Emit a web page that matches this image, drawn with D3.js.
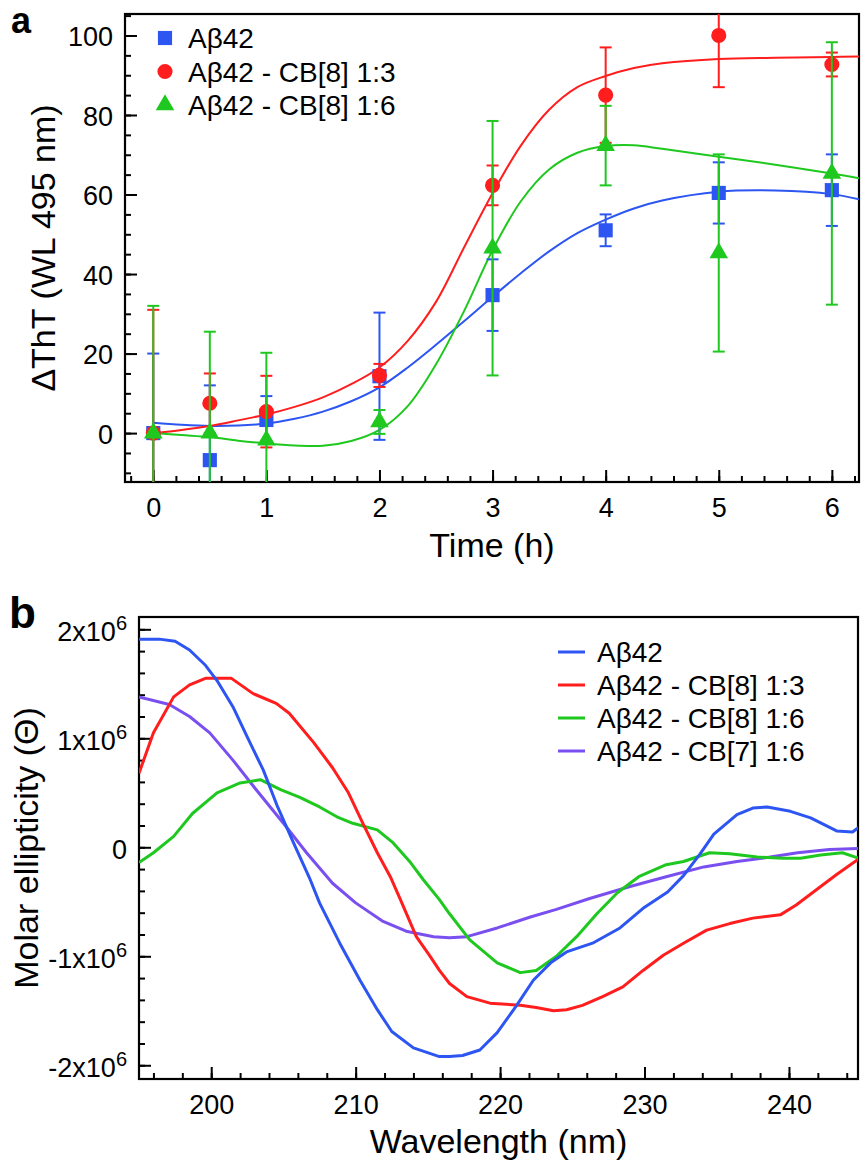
<!DOCTYPE html>
<html>
<head>
<meta charset="utf-8">
<script src="https://cdn.jsdelivr.net/npm/d3@7"></script>
<style>
  body { margin: 0; background: #fff; }
  svg text { font-family: "Liberation Sans", Arial, Helvetica, sans-serif; fill: #000; }
  .axis path, .axis line { stroke: #000; stroke-width: 2; }
</style>
</head>
<body>
<div id="chart"></div>
<script>
// ---- panel a : ThT kinetics ----
var timeH = [0, 0.5, 1, 2, 3, 4, 5, 6];
var ab42Tht = [0, -6.8, 3.3, 14.3, 34.7, 51, 60.4, 61.1];
var ab42Err = [20, 18.8, 6, 16, 9, 4, 7.7, 9];
var cb8r3Tht = [0, 7.5, 5.4, 14.5, 62.3, 85, 100, 92.7];
var cb8r3Err = [31, 7.5, 9, 2.9, 5, 12, 13, 3];
var cb8r6Tht = [0, 0, -1.8, 2.8, 46.5, 72.3, 45.3, 65.3];
var cb8r6Err = [32, 25.5, 22, 3, 32, 10, 24.8, 33];

// fitted curves
var fitTime = [0, 0.25, 0.5, 0.75, 1, 1.25, 1.5, 1.75, 2, 2.25, 2.5, 2.75, 3, 3.25, 3.5, 3.75, 4, 4.25, 4.5, 5, 5.5, 6, 6.24];
var ab42Fit = [2.6, 2.1, 1.8, 1.9, 2.4, 3.6, 5.4, 8.0, 11.5, 16.5, 22.2, 28.2, 34.3, 40.2, 45.7, 50.3, 53.7, 56.5, 58.5, 60.7, 61.0, 60.1, 58.8];
var cb8r3Fit = [0, 0.8, 1.8, 3.2, 4.7, 6.6, 9.0, 12.3, 16.5, 23.2, 33.0, 46.8, 60.3, 72.3, 81.3, 87.0, 89.8, 91.8, 93.0, 94.1, 94.4, 94.6, 94.7];
var cb8r6Fit = [0, -0.5, -1.0, -1.9, -2.6, -3.1, -3.2, -2.0, 0.8, 6.8, 17.3, 30.8, 46.0, 58.3, 66.3, 70.5, 72.2, 72.4, 71.5, 69.5, 67.5, 65.3, 64.1];

var timeTicks = [0, 1, 2, 3, 4, 5, 6];
var thtTicks = [0, 20, 40, 60, 80, 100];

// ---- panel b : CD spectra (values in 10^6) ----
var ab42Wl = [195, 196.4, 197.5, 198.5, 199.6, 200.4, 201.5, 202.5, 203.6, 204.6, 205.7, 206.8, 207.5, 208.9, 210.3, 211.5, 212.5, 214, 215.8, 216.5, 217.4, 218.6, 219.8, 221.1, 222.3, 223.5, 224.6, 226.4, 228.3, 229.9, 231.6, 232.7, 233.8, 234.8, 236.4, 237.5, 238.5, 240.1, 241.5, 243.3, 244.4, 244.8];
var ab42Cd = [1.91, 1.91, 1.89, 1.81, 1.67, 1.53, 1.29, 1.01, 0.71, 0.37, 0.04, -0.28, -0.51, -0.88, -1.22, -1.49, -1.69, -1.84, -1.92, -1.92, -1.91, -1.86, -1.70, -1.46, -1.22, -1.06, -0.96, -0.88, -0.74, -0.56, -0.41, -0.26, -0.07, 0.12, 0.30, 0.36, 0.37, 0.33, 0.27, 0.15, 0.14, 0.18];
var cb8r3Wl = [195, 196, 197.4, 198.5, 199.6, 201.4, 202.9, 204.5, 205.4, 207.1, 208.4, 209.5, 210.5, 211.5, 212.4, 213.1, 214.2, 215.1, 215.8, 216.5, 217.7, 219.3, 221.4, 222.5, 223.7, 224.6, 225.7, 227.1, 228.5, 229.9, 231.3, 232.7, 234.3, 235.9, 237.5, 239.4, 240.5, 241.9, 243.3, 244.8];
var cb8r3Cd = [0.68, 1.05, 1.38, 1.49, 1.55, 1.55, 1.41, 1.32, 1.23, 0.96, 0.73, 0.50, 0.22, -0.05, -0.27, -0.48, -0.82, -0.99, -1.13, -1.25, -1.37, -1.43, -1.45, -1.47, -1.50, -1.49, -1.45, -1.37, -1.28, -1.13, -0.99, -0.88, -0.76, -0.70, -0.65, -0.62, -0.53, -0.39, -0.25, -0.11];
var cb8r6Wl = [195, 196, 197.4, 198.7, 200.4, 202, 203.4, 204.8, 206.1, 207.5, 208.7, 209.8, 211.5, 212.6, 213.8, 214.7, 215.8, 216.5, 217.9, 219.8, 221.4, 222.5, 223.9, 225.3, 226.7, 228.1, 229.6, 231.5, 232.7, 234.5, 235.9, 237.8, 239.6, 240.8, 242.2, 243.7, 244.8];
var cb8r6Cd = [-0.14, -0.05, 0.10, 0.31, 0.50, 0.59, 0.62, 0.53, 0.46, 0.37, 0.28, 0.22, 0.16, 0.04, -0.14, -0.30, -0.48, -0.61, -0.85, -1.06, -1.15, -1.13, -1.00, -0.82, -0.61, -0.42, -0.27, -0.16, -0.13, -0.05, -0.06, -0.09, -0.10, -0.10, -0.07, -0.05, -0.10];
var cb7r6Wl = [195, 197.1, 198.5, 199.9, 201.5, 203.1, 205, 206.6, 208.4, 210, 211.9, 213.5, 215.4, 216.5, 217.7, 219.8, 222.1, 223.9, 226.2, 229, 231.5, 234.1, 236.4, 238.7, 240.6, 242.8, 244.8];
var cb7r6Cd = [1.38, 1.31, 1.20, 1.05, 0.80, 0.53, 0.22, -0.05, -0.33, -0.51, -0.68, -0.77, -0.82, -0.83, -0.82, -0.74, -0.64, -0.57, -0.47, -0.36, -0.27, -0.18, -0.13, -0.09, -0.05, -0.02, -0.01];

var wlTicks = [200, 210, 220, 230, 240];
var cdTicks = [-2, -1, 0, 1, 2];

var blue = "#2c55f2", red = "#ff1d1d", green = "#1fc81f", purple = "#7a4ff0";

var svgWidth = 865;
var svgHeight = 1169;

var svg = d3.select("#chart")
  .append("svg")
  .attr("width", svgWidth)
  .attr("height", svgHeight);

function zip(xs, ys) {
  return xs.map(function(x, i) { return [x, ys[i]]; });
}

// ================= panel a =================
var a = { left: 125, right: 859, top: 14, bottom: 482 };

var xA = d3.scaleLinear().domain([-0.25, 6.24]).range([a.left, a.right]);
var yA = d3.scaleLinear().domain([-12.3, 105.4]).range([a.bottom, a.top]);

svg.append("defs").append("clipPath").attr("id", "clipA")
  .append("rect")
  .attr("x", a.left).attr("y", a.top)
  .attr("width", a.right - a.left).attr("height", a.bottom - a.top);

// minor ticks
svg.append("g").attr("class", "axis")
  .attr("transform", "translate(0," + a.bottom + ")")
  .call(d3.axisBottom(xA).tickValues(d3.range(-0.2, 6.21, 0.2)).tickSize(-6).tickFormat(""))
  .select(".domain").remove();
svg.append("g").attr("class", "axis")
  .attr("transform", "translate(" + a.left + ",0)")
  .call(d3.axisLeft(yA).tickValues(d3.range(-10, 106, 5)).tickSize(-6).tickFormat(""))
  .select(".domain").remove();

// major ticks
var xAxisA = svg.append("g").attr("class", "axis")
  .attr("transform", "translate(0," + a.bottom + ")")
  .call(d3.axisBottom(xA).tickValues(timeTicks).tickSize(-12).tickPadding(16).tickFormat(d3.format("d")));
xAxisA.select(".domain").remove();
xAxisA.selectAll("text").attr("font-size", 27);

var yAxisA = svg.append("g").attr("class", "axis")
  .attr("transform", "translate(" + a.left + ",0)")
  .call(d3.axisLeft(yA).tickValues(thtTicks).tickSize(-12).tickPadding(12).tickFormat(d3.format("d")));
yAxisA.select(".domain").remove();
yAxisA.selectAll("text").attr("font-size", 27).attr("dy", "0.38em");

svg.append("rect")
  .attr("x", a.left).attr("y", a.top)
  .attr("width", a.right - a.left).attr("height", a.bottom - a.top)
  .attr("fill", "none").attr("stroke", "#000").attr("stroke-width", 2.2);

var lineA = d3.line()
  .x(function(d) { return xA(d[0]); })
  .y(function(d) { return yA(d[1]); })
  .curve(d3.curveCatmullRom.alpha(0.5));

var plotA = svg.append("g").attr("clip-path", "url(#clipA)");

var seriesA = [
  { fit: ab42Fit, val: ab42Tht, err: ab42Err, color: blue, sym: d3.symbolSquare, size: 200 },
  { fit: cb8r3Fit, val: cb8r3Tht, err: cb8r3Err, color: red, sym: d3.symbolCircle, size: 180 },
  { fit: cb8r6Fit, val: cb8r6Tht, err: cb8r6Err, color: green, sym: d3.symbolTriangle, size: 150 }
];

seriesA.forEach(function(s) {
  plotA.append("path")
    .datum(zip(fitTime, s.fit))
    .attr("d", lineA)
    .attr("fill", "none")
    .attr("stroke", s.color)
    .attr("stroke-width", 2);
});

seriesA.forEach(function(s) {
  var g = plotA.append("g");
  var pts = timeH.map(function(t, i) { return { t: t, v: s.val[i], e: s.err[i] }; });
  g.selectAll(".bar").data(pts).enter().append("line")
    .attr("x1", d => xA(d.t)).attr("x2", d => xA(d.t))
    .attr("y1", d => yA(d.v - d.e)).attr("y2", d => yA(d.v + d.e))
    .attr("stroke", s.color).attr("stroke-width", 2);
  [-1, 1].forEach(function(sign) {
    g.selectAll(".cap").data(pts).enter().append("line")
      .attr("x1", d => xA(d.t) - 6).attr("x2", d => xA(d.t) + 6)
      .attr("y1", d => yA(d.v + sign * d.e)).attr("y2", d => yA(d.v + sign * d.e))
      .attr("stroke", s.color).attr("stroke-width", 2);
  });
  g.selectAll(".mark").data(pts).enter().append("path")
    .attr("d", d3.symbol().type(s.sym).size(s.size))
    .attr("transform", d => "translate(" + xA(d.t) + "," + yA(d.v) + ")")
    .attr("fill", s.color);
});

// legend a
var legA = ["A\u03b242", "A\u03b242 - CB[8] 1:3", "A\u03b242 - CB[8] 1:6"];
legA.forEach(function(name, i) {
  var y = 38 + i * 33.5;
  svg.append("path")
    .attr("d", d3.symbol().type(seriesA[i].sym).size(seriesA[i].size))
    .attr("transform", "translate(165," + y + ")")
    .attr("fill", seriesA[i].color);
  svg.append("text")
    .attr("x", 188).attr("y", y).attr("dy", "0.36em")
    .attr("font-size", 28)
    .text(name);
});

svg.append("text")
  .attr("x", (a.left + a.right) / 2).attr("y", 557)
  .attr("text-anchor", "middle").attr("font-size", 34)
  .text("Time (h)");

svg.append("text")
  .attr("transform", "translate(55," + (a.top + a.bottom) / 2 + ") rotate(-90)")
  .attr("text-anchor", "middle").attr("font-size", 34)
  .text("\u0394ThT (WL 495 nm)");

svg.append("text")
  .attr("x", 11).attr("y", 33)
  .attr("font-size", 36).attr("font-weight", "bold")
  .text("a");

// ================= panel b =================
var b = { left: 139, right: 858, top: 617, bottom: 1079 };

var xB = d3.scaleLinear().domain([195, 244.78]).range([b.left, b.right]);
var yB = d3.scaleLinear().domain([-2.126, 2.113]).range([b.bottom, b.top]);

svg.select("defs").append("clipPath").attr("id", "clipB")
  .append("rect")
  .attr("x", b.left).attr("y", b.top)
  .attr("width", b.right - b.left).attr("height", b.bottom - b.top);

svg.append("g").attr("class", "axis")
  .attr("transform", "translate(0," + b.bottom + ")")
  .call(d3.axisBottom(xB).tickValues(d3.range(196, 245, 2)).tickSize(-6).tickFormat(""))
  .select(".domain").remove();
svg.append("g").attr("class", "axis")
  .attr("transform", "translate(" + b.left + ",0)")
  .call(d3.axisLeft(yB).tickValues(d3.range(-2, 2.01, 0.2)).tickSize(-6).tickFormat(""))
  .select(".domain").remove();

var xAxisB = svg.append("g").attr("class", "axis")
  .attr("transform", "translate(0," + b.bottom + ")")
  .call(d3.axisBottom(xB).tickValues(wlTicks).tickSize(-12).tickPadding(16).tickFormat(d3.format("d")));
xAxisB.select(".domain").remove();
xAxisB.selectAll("text").attr("font-size", 27);

var yAxisB = svg.append("g").attr("class", "axis")
  .attr("transform", "translate(" + b.left + ",0)")
  .call(d3.axisLeft(yB).tickValues(cdTicks).tickSize(-12).tickPadding(12).tickFormat(""));
yAxisB.select(".domain").remove();
yAxisB.selectAll(".tick text").each(function(d) {
  var t = d3.select(this).attr("font-size", 27).attr("dy", "0.42em");
  if (d === 0) {
    t.text("0");
  } else {
    t.append("tspan").text(d + "x10");
    t.append("tspan").attr("font-size", 20).attr("dy", "-0.55em").text("6");
  }
});

svg.append("rect")
  .attr("x", b.left).attr("y", b.top)
  .attr("width", b.right - b.left).attr("height", b.bottom - b.top)
  .attr("fill", "none").attr("stroke", "#000").attr("stroke-width", 2.2);

var lineB = d3.line()
  .x(function(d) { return xB(d[0]); })
  .y(function(d) { return yB(d[1]); });

var seriesB = [
  { name: "A\u03b242", wl: ab42Wl, cd: ab42Cd, color: blue },
  { name: "A\u03b242 - CB[8] 1:3", wl: cb8r3Wl, cd: cb8r3Cd, color: red },
  { name: "A\u03b242 - CB[8] 1:6", wl: cb8r6Wl, cd: cb8r6Cd, color: green },
  { name: "A\u03b242 - CB[7] 1:6", wl: cb7r6Wl, cd: cb7r6Cd, color: purple }
];

var plotB = svg.append("g").attr("clip-path", "url(#clipB)");
seriesB.slice().reverse().forEach(function(s) {
  plotB.append("path")
    .datum(zip(s.wl, s.cd))
    .attr("d", lineB)
    .attr("fill", "none")
    .attr("stroke", s.color)
    .attr("stroke-width", 3)
    .attr("stroke-linejoin", "round");
});

seriesB.forEach(function(s, i) {
  var y = 652 + i * 33;
  svg.append("line")
    .attr("x1", 558).attr("x2", 585)
    .attr("y1", y).attr("y2", y)
    .attr("stroke", s.color).attr("stroke-width", 3);
  svg.append("text")
    .attr("x", 597).attr("y", y).attr("dy", "0.36em")
    .attr("font-size", 28)
    .text(s.name);
});

svg.append("text")
  .attr("x", (b.left + b.right) / 2).attr("y", 1153)
  .attr("text-anchor", "middle").attr("font-size", 34)
  .text("Wavelength (nm)");

svg.append("text")
  .attr("transform", "translate(38," + (b.top + b.bottom) / 2 + ") rotate(-90)")
  .attr("text-anchor", "middle").attr("font-size", 34)
  .text("Molar ellipticity (\u0398)");

svg.append("text")
  .attr("x", 9).attr("y", 628)
  .attr("font-size", 44).attr("font-weight", "bold")
  .text("b");
</script>
</body>
</html>
